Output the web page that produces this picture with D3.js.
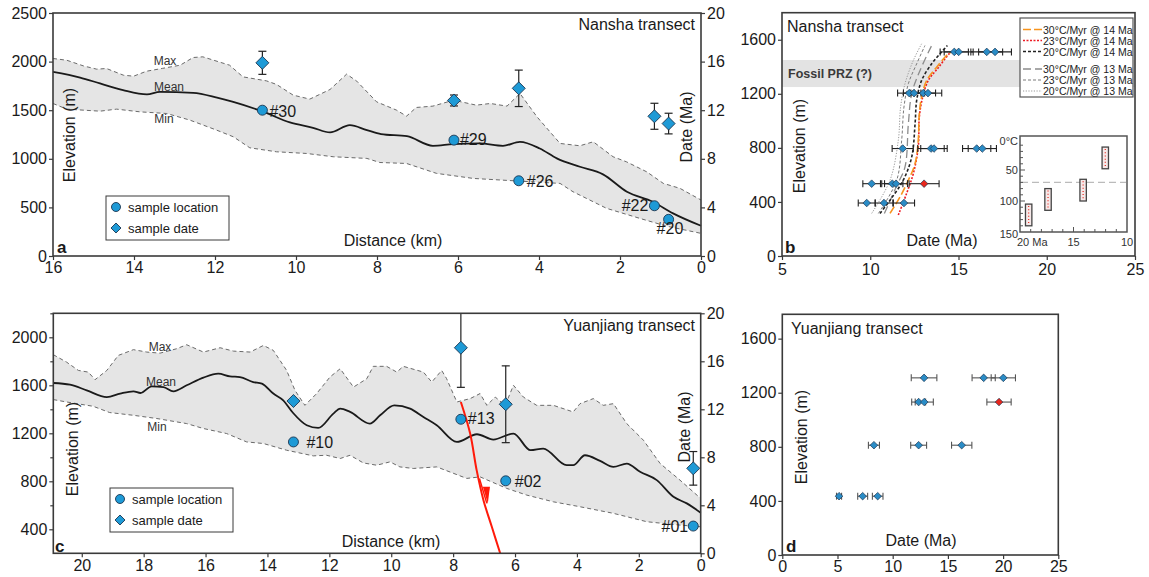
<!DOCTYPE html>
<html>
<head>
<meta charset="utf-8">
<script src="https://cdn.jsdelivr.net/npm/d3@7"></script>
<style>
  body { margin: 0; background: #fff; }
  svg text { font-family: "Liberation Sans", Arial, sans-serif; }
</style>
</head>
<body>
<div id="app"></div>
<script>
// ---------- data ----------

// a: Nansha swath profile (distance km / elevation m)
const nsMaxDist = [16, 15.66, 15.25, 14.92, 14.68, 14.26, 14.01, 13.69, 13.3, 12.86, 12.54, 12.3, 11.64, 11.31, 10.73, 10.48, 10.07, 9.66, 9.16, 8.75, 8.5, 8.01, 7.52, 7.27, 7.03, 6.62, 6.11, 5.55, 5.2, 4.79, 4.47, 4.05, 3.48, 2.99, 2.66, 2.17, 1.84, 1.34, 0.93, 0.52, 0];
const nsMaxElev = [2032, 2014, 1956, 1922, 1929, 1860, 1850, 1901, 1930, 1963, 2042, 2049, 1963, 1843, 1802, 1765, 1655, 1614, 1713, 1871, 1799, 1586, 1501, 1439, 1528, 1542, 1603, 1552, 1569, 1542, 1672, 1432, 1158, 1134, 1175, 1021, 969, 866, 747, 696, 576];
const nsMeanDist = [16, 15.33, 14.84, 14.27, 13.68, 13.36, 12.54, 11.95, 11.55, 10.8, 10.15, 9.58, 9.16, 8.67, 8.25, 7.9, 7.26, 6.62, 6.12, 5.46, 4.89, 4.47, 3.98, 3.56, 2.99, 2.42, 1.83, 1.19, 0.69, 0];
const nsMeanElev = [1894, 1836, 1775, 1706, 1662, 1689, 1679, 1630, 1586, 1483, 1374, 1319, 1271, 1346, 1295, 1255, 1233, 1134, 1151, 1158, 1134, 1175, 1106, 1004, 918, 840, 661, 558, 439, 311];
const nsMinDist = [16, 15.66, 14.84, 14.43, 13.85, 13.19, 12.62, 11.96, 11.55, 11.14, 10.48, 9.74, 9.08, 8.25, 7.93, 7.27, 6.53, 5.62, 4.22, 3.48, 3.16, 2.33, 1.51, 0.86, 0];
const nsMinElev = [1569, 1511, 1490, 1511, 1483, 1466, 1398, 1295, 1227, 1113, 1072, 1055, 1021, 1004, 962, 952, 850, 798, 764, 747, 661, 490, 387, 308, 233];

const nsSample = ['#30', '#29', '#26', '#22', '#20'];
const nsSampleDist = [10.83, 6.1, 4.5, 1.15, 0.8];
const nsSampleElev = [1500, 1192, 774, 517, 377];
const nsDateDist = [10.83, 6.1, 4.5, 1.15, 0.8];
const nsDate = [15.9, 12.8, 13.8, 11.5, 10.9];
const nsDateErr = [0.95, 0.45, 1.5, 1.07, 0.85];

// b: Nansha age-elevation
const nbDate = [14.76, 15.01, 16.6, 17.07, 12.21, 12.48, 13.0, 13.27, 11.84, 13.44, 13.61, 16.03, 16.35, 10.08, 11.25, 11.46, 9.8, 10.78, 11.91];
const nbElev = [1510, 1510, 1510, 1510, 1205, 1205, 1205, 1205, 795, 795, 795, 795, 795, 535, 535, 535, 392, 392, 392];
const nbErr = [0.8, 0.82, 0.9, 0.93, 0.66, 0.6, 0.7, 0.78, 0.6, 0.75, 0.75, 0.8, 0.8, 0.5, 0.6, 0.65, 0.48, 0.5, 0.6];
const nbRedDate = [13.05];
const nbRedElev = [535];
const nbRedErr = [0.85];
const przElev = [1250, 1450];

const modelNames = ['30°C/Myr @ 14 Ma', '23°C/Myr @ 14 Ma', '20°C/Myr @ 14 Ma', '30°C/Myr @ 13 Ma', '23°C/Myr @ 13 Ma', '20°C/Myr @ 13 Ma'];
const m30at14Date = [11.12, 11.69, 12.16, 12.54, 12.72, 12.78, 12.91, 13.2, 13.76, 14.42, 14.6];
const m30at14Elev = [315, 438, 561, 684, 856, 1053, 1176, 1299, 1397, 1496, 1510];
const m23at14Date = [11.59, 12.06, 12.44, 12.72, 12.78, 12.97, 13.29, 13.85, 14.5, 14.65];
const m23at14Elev = [303, 463, 610, 806, 1028, 1176, 1299, 1392, 1500, 1512];
const m20at14Date = [10.55, 11.12, 11.87, 12.35, 12.54, 12.63, 12.91, 13.48, 13.95, 14.37];
const m20at14Elev = [315, 413, 561, 733, 979, 1151, 1299, 1422, 1496, 1557];
const m30at13Date = [10.8, 11.5, 11.97, 12.16, 12.35, 12.82, 13.48];
const m30at13Elev = [315, 520, 659, 979, 1201, 1373, 1557];
const m23at13Date = [10.46, 11.5, 11.78, 11.91, 12.16, 12.63, 13.1];
const m23at13Elev = [315, 561, 856, 1102, 1275, 1422, 1557];
const m20at13Date = [10.08, 11.12, 11.59, 11.72, 11.97, 12.44, 12.91];
const m20at13Elev = [315, 561, 856, 1102, 1275, 1447, 1570];

// b inset: thermal history boxes
const insetDate = [19.19, 17.38, 14.1, 12.03];
const insetTempTop = [105, 80, 65, 13];
const insetTempBottom = [140, 115, 100, 48];
const insetPrzTemp = 70;

// c: Yuanjiang swath profile
const yjMaxDist = [20.92, 20.49, 20.11, 19.79, 19.57, 19.19, 18.82, 18.33, 17.9, 17.47, 16.93, 16.61, 16.07, 15.53, 15.1, 14.56, 14.13, 13.81, 13.38, 13.11, 12.79, 12.41, 11.98, 11.65, 11.22, 10.79, 10.58, 10.15, 9.82, 9.61, 8.96, 8.69, 8.37, 8.21, 7.88, 7.45, 7.13, 6.91, 6.64, 6.32, 6.05, 5.73, 5.3, 4.76, 4.12, 3.9, 3.47, 3.15, 2.82, 2.39, 1.85, 1.31, 0.67, 0];
const yjMaxElev = [1855, 1793, 1724, 1710, 1647, 1724, 1849, 1897, 1877, 1868, 1905, 1938, 1877, 1913, 1885, 1877, 1932, 1891, 1724, 1558, 1433, 1531, 1669, 1738, 1585, 1655, 1758, 1758, 1710, 1758, 1710, 1627, 1724, 1655, 1461, 1489, 1531, 1433, 1502, 1433, 1600, 1502, 1433, 1433, 1378, 1447, 1489, 1433, 1447, 1281, 1142, 948, 810, 657];
const yjMeanDist = [20.92, 20.38, 19.84, 19.19, 18.76, 18.33, 18.1, 17.74, 17.36, 17.04, 16.61, 16.07, 15.59, 15.21, 14.89, 14.46, 14.18, 13.81, 13.49, 13.17, 12.73, 12.36, 11.87, 11.65, 11.33, 10.69, 10.36, 9.9, 9.39, 8.96, 8.53, 7.88, 7.23, 6.7, 6.05, 5.5, 5.09, 4.33, 4.12, 3.74, 3.25, 2.82, 2.39, 1.96, 1.42, 0.88, 0.45, 0];
const yjMeanElev = [1619, 1605, 1558, 1502, 1531, 1550, 1536, 1591, 1585, 1550, 1600, 1664, 1697, 1674, 1669, 1627, 1614, 1531, 1475, 1369, 1267, 1245, 1364, 1406, 1378, 1281, 1350, 1433, 1406, 1336, 1267, 1128, 1192, 1148, 1198, 1059, 1073, 934, 934, 1017, 970, 920, 948, 879, 810, 671, 616, 538];
const yjMinDist = [20.92, 20.49, 19.63, 19.1, 18.33, 17.57, 16.61, 16.07, 15.32, 14.67, 14.13, 13.38, 12.52, 12.09, 11.65, 11.33, 10.9, 10.47, 10.04, 9.72, 9.29, 8.53, 7.56, 7.13, 6.27, 5.62, 4.76, 3.9, 2.82, 1.74, 0.67, 0];
const yjMinElev = [1481, 1461, 1425, 1373, 1350, 1323, 1281, 1240, 1198, 1128, 1115, 1059, 1012, 1017, 990, 1017, 953, 934, 962, 920, 907, 920, 824, 837, 741, 685, 629, 588, 533, 463, 435, 421];

const yjSample = ['#10', '#13', '#02', '#01'];
const yjSampleDist = [13.16, 7.75, 6.3, 0.24];
const yjSampleElev = [1128, 1317, 804, 427];
const yjDateDist = [13.16, 7.75, 6.3, 0.24];
const yjDate = [12.69, 17.13, 12.42, 7.08];
const yjDateErr = [0, 3.3, 3.2, 1.4];

const faultDist = [7.75, 7.45, 7.24, 7.02, 6.75, 6.48];
const faultElev = [1461, 1198, 893, 643, 421, 200];
const faultArrowDist = [7.04, 6.81, 6.88];
const faultArrowElev = [754, 754, 616];
const faultTickDist = [7.15, 6.91];
const faultTickElev = [824, 616];

// d: Yuanjiang age-elevation
const ndDate = [12.84, 18.24, 20.02, 12.35, 12.86, 8.3, 12.35, 16.25, 5.14, 7.28, 8.64];
const ndElev = [1310, 1310, 1310, 1131, 1131, 812, 812, 812, 435, 435, 435];
const ndErr = [1.16, 1.05, 1.1, 0.63, 0.82, 0.5, 0.72, 0.92, 0.23, 0.45, 0.48];
const ndRedDate = [19.63];
const ndRedElev = [1131];
const ndRedErr = [1.1];

// ---------- drawing ----------
const FONT = '"Liberation Sans", Arial, sans-serif';
const INK = '#3a3a3a';
const BLUE = '#1e9ad6';
const BLUE2 = '#2a8cc6';
const RED = '#e8261c';

const svg = d3.select('#app').append('svg')
  .attr('width', 1149).attr('height', 577)
  .style('background', '#fff');

function txt(g, x, y, s, o = {}) {
  const t = g.append('text').attr('x', x).attr('y', y).text(s)
    .attr('font-size', o.size || 16)
    .attr('fill', o.fill || '#1a1a1a')
    .attr('text-anchor', o.anchor || 'start')
    .attr('font-family', FONT);
  if (o.bold) t.attr('font-weight', 'bold');
  if (o.rotate) t.attr('transform', `rotate(-90,${x},${y})`);
  if (o.mid) t.attr('dominant-baseline', 'central');
  return t;
}

function styleAxis(sel, size = 16) {
  sel.select('.domain').remove();
  sel.selectAll('line').attr('stroke', INK).attr('stroke-width', 1.2);
  sel.selectAll('text').attr('font-size', size).attr('fill', '#1a1a1a').attr('font-family', FONT);
}

function frame(g, x, y) {
  const [x0, x1] = x.range();
  const [y1, y0] = y.range();
  g.append('rect')
    .attr('x', Math.min(x0, x1)).attr('y', y0)
    .attr('width', Math.abs(x1 - x0)).attr('height', y1 - y0)
    .attr('fill', 'none').attr('stroke', INK).attr('stroke-width', 1.6);
}

const diamond = (r) => `M0,${-r}L${r},0L0,${r}L${-r},0Z`;
const intFmt = d3.format('d');

function profilePanel(c) {
  const g = svg.append('g');
  const { x, y, t } = c;
  const pt = d3.line().x((d) => x(d[0])).y((d) => y(d[1]));

  const maxPts = d3.zip(c.maxD, c.maxE);
  const minPts = d3.zip(c.minD, c.minE);
  g.append('path')
    .attr('d', pt(maxPts.concat(minPts.slice().reverse())) + 'Z')
    .attr('fill', '#e5e5e5');

  [maxPts, minPts].forEach((p) => {
    g.append('path').attr('d', pt(p))
      .attr('fill', 'none').attr('stroke', '#6a6a6a')
      .attr('stroke-width', 1).attr('stroke-dasharray', '4,3');
  });

  g.append('path')
    .attr('d', pt.curve(d3.curveMonotoneX)(d3.zip(c.meanD, c.meanE)))
    .attr('fill', 'none').attr('stroke', '#1a1a1a').attr('stroke-width', 1.8);
  pt.curve(d3.curveLinear);

  if (c.extra) c.extra(g);

  // axes
  const ax = g.append('g').attr('transform', `translate(0,${y.range()[0]})`)
    .call(d3.axisBottom(x).tickValues(c.xTicks).tickSize(4).tickPadding(2).tickFormat(intFmt));
  styleAxis(ax);
  const ay = g.append('g').attr('transform', `translate(${x.range()[0]},0)`)
    .call(d3.axisLeft(y).tickValues(c.yTicks).tickSize(4).tickPadding(2).tickFormat(intFmt));
  styleAxis(ay);
  if (c.yMinor) {
    const am = g.append('g').attr('transform', `translate(${x.range()[0]},0)`)
      .call(d3.axisLeft(y).tickValues(c.yMinor).tickSize(3).tickFormat(''));
    styleAxis(am);
  }
  const at = g.append('g').attr('transform', `translate(${x.range()[1]},0)`)
    .call(d3.axisRight(t).tickValues(c.tTicks).tickSize(4).tickPadding(2).tickFormat(intFmt));
  styleAxis(at);

  // date diamonds with error bars
  const top = t.domain()[1];
  c.dateD.forEach((d, i) => {
    const px = x(d);
    const e = c.dateErr[i];
    if (e > 0) {
      const hi = Math.min(top, c.date[i] + e);
      const lo = c.date[i] - e;
      g.append('line').attr('x1', px).attr('x2', px)
        .attr('y1', t(lo)).attr('y2', t(hi))
        .attr('stroke', '#222').attr('stroke-width', 1.2);
      const caps = [lo];
      if (c.date[i] + e < top) caps.push(hi);
      caps.forEach((v) => g.append('line')
        .attr('x1', px - 4).attr('x2', px + 4).attr('y1', t(v)).attr('y2', t(v))
        .attr('stroke', '#222').attr('stroke-width', 1.2));
    }
    g.append('path').attr('d', diamond(6.5))
      .attr('transform', `translate(${px},${t(c.date[i])})`)
      .attr('fill', BLUE).attr('stroke', '#1c3550').attr('stroke-width', 0.9);
  });

  // sample locations
  c.sampleD.forEach((d, i) => {
    const px = x(d), py = y(c.sampleE[i]);
    g.append('circle').attr('cx', px).attr('cy', py).attr('r', 5)
      .attr('fill', BLUE).attr('stroke', '#1c3550').attr('stroke-width', 0.9);
    const o = c.labelOff[i];
    txt(g, px + o[0], py + o[1], c.sample[i], { anchor: o[2], mid: true });
  });

  frame(g, x, y);

  // texts
  const L = c.text;
  txt(g, L.title[0], L.title[1], c.title, { anchor: 'end' });
  txt(g, L.elev[0], L.elev[1], 'Elevation (m)', { anchor: 'middle', rotate: true, mid: true });
  txt(g, L.date[0], L.date[1], 'Date (Ma)', { anchor: 'middle', rotate: true, mid: true });
  txt(g, L.dist[0], L.dist[1], 'Distance (km)', { anchor: 'middle', mid: true });
  txt(g, L.letter[0], L.letter[1], c.letter, { bold: true, size: 17 });
  txt(g, L.max[0], L.max[1], 'Max', { size: 12, anchor: 'middle', mid: true, fill: '#333' });
  txt(g, L.mean[0], L.mean[1], 'Mean', { size: 12, anchor: 'middle', mid: true, fill: '#333' });
  txt(g, L.min[0], L.min[1], 'Min', { size: 12, anchor: 'middle', mid: true, fill: '#333' });

  // legend
  const [lx, ly] = L.legend;
  g.append('rect').attr('x', lx).attr('y', ly).attr('width', 123).attr('height', 44)
    .attr('fill', '#fff').attr('stroke', INK).attr('stroke-width', 1);
  g.append('circle').attr('cx', lx + 10).attr('cy', ly + 11).attr('r', 4.5)
    .attr('fill', BLUE).attr('stroke', '#1c3550').attr('stroke-width', 0.9);
  g.append('path').attr('d', diamond(5)).attr('transform', `translate(${lx + 10},${ly + 32})`)
    .attr('fill', BLUE).attr('stroke', '#1c3550').attr('stroke-width', 0.9);
  txt(g, lx + 22, ly + 11, 'sample location', { size: 13, mid: true });
  txt(g, lx + 22, ly + 32, 'sample date', { size: 13, mid: true });
}

// ----- panel a -----
const xa = d3.scaleLinear().domain([16, 0]).range([53, 701]);
const ya = d3.scaleLinear().domain([0, 2500]).range([256, 13]);
const ta = d3.scaleLinear().domain([0, 20]).range([256, 13]);
profilePanel({
  x: xa, y: ya, t: ta,
  maxD: nsMaxDist, maxE: nsMaxElev, meanD: nsMeanDist, meanE: nsMeanElev, minD: nsMinDist, minE: nsMinElev,
  sample: nsSample, sampleD: nsSampleDist, sampleE: nsSampleElev,
  dateD: nsDateDist, date: nsDate, dateErr: nsDateErr,
  labelOff: [[7, 1, 'start'], [6, -1, 'start'], [8, 1, 'start'], [-6, 0, 'end'], [-12, 9, 'start']],
  xTicks: d3.range(0, 17, 2), yTicks: d3.range(0, 2501, 500), tTicks: [0, 4, 8, 12, 16, 20],
  title: 'Nansha transect', letter: 'a',
  text: {
    title: [695, 30], elev: [69, 135], date: [686, 127], dist: [393, 240], letter: [57, 253],
    max: [165, 61], mean: [169, 87], min: [164, 119], legend: [106, 196],
  },
});

// ----- panel c -----
const xc = d3.scaleLinear().domain([20.92, 0]).range([53.3, 700.7]);
const yc = d3.scaleLinear().domain([200, 2200]).range([553.3, 313.3]);
const tc = d3.scaleLinear().domain([0, 20]).range([553.3, 313.3]);
profilePanel({
  x: xc, y: yc, t: tc,
  maxD: yjMaxDist, maxE: yjMaxElev, meanD: yjMeanDist, meanE: yjMeanElev, minD: yjMinDist, minE: yjMinElev,
  sample: yjSample, sampleD: yjSampleDist, sampleE: yjSampleElev,
  dateD: yjDateDist, date: yjDate, dateErr: yjDateErr,
  labelOff: [[13, 1, 'start'], [7, -1, 'start'], [9, 1, 'start'], [-5, 0, 'end']],
  xTicks: d3.range(0, 21, 2), yTicks: d3.range(400, 2001, 400), yMinor: d3.range(600, 2201, 400),
  tTicks: [0, 4, 8, 12, 16, 20],
  title: 'Yuanjiang transect', letter: 'c',
  text: {
    title: [695, 331], elev: [72, 449], date: [684, 427], dist: [391, 541], letter: [55, 552],
    max: [160, 347], mean: [161, 382], min: [157, 427], legend: [110, 488],
  },
  extra: (g) => {
    const fl = d3.line().x((d) => xc(d[0])).y((d) => yc(d[1])).curve(d3.curveCatmullRom);
    g.append('path').attr('d', fl(d3.zip(faultDist, faultElev)))
      .attr('fill', 'none').attr('stroke', '#ff1a0a').attr('stroke-width', 2);
    g.append('path').attr('d', fl(d3.zip(faultTickDist, faultTickElev)))
      .attr('fill', 'none').attr('stroke', '#ff1a0a').attr('stroke-width', 1.5);
    g.append('path').attr('d', d3.line().x((d) => xc(d[0])).y((d) => yc(d[1]))(d3.zip(faultArrowDist, faultArrowElev)) + 'Z')
      .attr('fill', '#ff1a0a');
  },
});

// ----- panel b -----
const xb = d3.scaleLinear().domain([5, 25]).range([782, 1135]);
const yb = d3.scaleLinear().domain([0, 1800]).range([256, 12.7]);
{
  const g = svg.append('g');
  g.append('rect').attr('x', xb(5)).attr('width', xb(25) - xb(5))
    .attr('y', yb(przElev[1])).attr('height', yb(przElev[0]) - yb(przElev[1]))
    .attr('fill', '#e3e3e3');
  txt(g, 788, yb(1350), 'Fossil PRZ (?)', { bold: true, size: 12.5, fill: '#3a3a3a', mid: true });

  const models = [
    [m30at14Date, m30at14Elev, '#f7941d', '8,3', 1.6],
    [m23at14Date, m23at14Elev, '#ed1c24', '2,1.5', 1.6],
    [m20at14Date, m20at14Elev, '#222', '3,2', 1.6],
    [m30at13Date, m30at13Elev, '#8c8c8c', '8,4', 1.3],
    [m23at13Date, m23at13Elev, '#7a7a7a', '3,2', 1.0],
    [m20at13Date, m20at13Elev, '#999', '1.2,1.5', 1.0],
  ];
  const ml = d3.line().x((d) => xb(d[0])).y((d) => yb(d[1])).curve(d3.curveCatmullRom.alpha(0.5));
  models.slice().reverse().forEach((m) => {
    g.append('path').attr('d', ml(d3.zip(m[0], m[1])))
      .attr('fill', 'none').attr('stroke', m[2]).attr('stroke-dasharray', m[3]).attr('stroke-width', m[4]);
  });

  const pts = (dates, elevs, errs, fill, bar) => {
    dates.forEach((d, i) => {
      const py = yb(elevs[i]);
      g.append('line').attr('x1', xb(d - errs[i])).attr('x2', xb(d + errs[i]))
        .attr('y1', py).attr('y2', py).attr('stroke', bar).attr('stroke-width', 1.1);
      [d - errs[i], d + errs[i]].forEach((v) => g.append('line')
        .attr('x1', xb(v)).attr('x2', xb(v)).attr('y1', py - 3.5).attr('y2', py + 3.5)
        .attr('stroke', bar).attr('stroke-width', 1.1));
    });
    dates.forEach((d, i) => {
      g.append('path').attr('d', diamond(3.8))
        .attr('transform', `translate(${xb(d)},${yb(elevs[i])})`)
        .attr('fill', fill).attr('stroke', '#1c3550').attr('stroke-width', 0.7);
    });
  };
  pts(nbDate, nbElev, nbErr, BLUE2, '#222');
  pts(nbRedDate, nbRedElev, nbRedErr, RED, '#222');

  const ax = g.append('g').attr('transform', 'translate(0,256)')
    .call(d3.axisBottom(xb).tickValues([5, 10, 15, 20, 25]).tickSize(4).tickPadding(4).tickFormat(intFmt));
  styleAxis(ax);
  const ay = g.append('g').attr('transform', `translate(${xb(5)},0)`)
    .call(d3.axisLeft(yb).tickValues(d3.range(0, 1601, 400)).tickSize(4).tickPadding(2).tickFormat(intFmt));
  styleAxis(ay);
  frame(g, xb, yb);

  txt(g, 787, 32, 'Nansha transect');
  txt(g, 799, 146, 'Elevation (m)', { anchor: 'middle', rotate: true, mid: true });
  txt(g, 942, 240, 'Date (Ma)', { anchor: 'middle', mid: true });
  txt(g, 785, 253, 'b', { bold: true, size: 17 });

  // legend
  g.append('rect').attr('x', 1020).attr('y', 18).attr('width', 113).attr('height', 79)
    .attr('fill', '#fff').attr('stroke', '#555').attr('stroke-width', 1.2);
  const ly = [29.5, 40.5, 51.5, 69, 80, 91];
  models.forEach((m, i) => {
    g.append('line').attr('x1', 1023).attr('x2', 1042).attr('y1', ly[i]).attr('y2', ly[i])
      .attr('stroke', m[2]).attr('stroke-dasharray', m[3]).attr('stroke-width', m[4]);
    txt(g, 1043, ly[i], modelNames[i], { size: 10.5, mid: true, fill: '#222' });
  });

  // inset
  const xi = d3.scaleLinear().domain([20, 10]).range([1020, 1127]);
  const yi = d3.scaleLinear().domain([0, 150]).range([139, 232]);
  g.append('rect').attr('x', 1020).attr('y', 136).attr('width', 107).attr('height', 96)
    .attr('fill', '#fff').attr('stroke', '#555').attr('stroke-width', 1.5);
  g.append('line').attr('x1', 1021).attr('x2', 1126).attr('y1', yi(insetPrzTemp)).attr('y2', yi(insetPrzTemp))
    .attr('stroke', '#bbb').attr('stroke-width', 1.3).attr('stroke-dasharray', '7,4');
  insetDate.forEach((d, i) => {
    const y0 = yi(insetTempTop[i]), y1 = yi(insetTempBottom[i]);
    g.append('rect').attr('x', xi(d) - 3.2).attr('width', 6.4).attr('y', y0).attr('height', y1 - y0)
      .attr('fill', '#f6e9e9').attr('stroke', '#444').attr('stroke-width', 1.3);
    g.append('line').attr('x1', xi(d)).attr('x2', xi(d)).attr('y1', y0 + 2).attr('y2', y1 - 2)
      .attr('stroke', RED).attr('stroke-width', 1.2).attr('stroke-dasharray', '1,2.2');
  });
  d3.range(11, 20).forEach((v) => {
    g.append('line').attr('x1', xi(v)).attr('x2', xi(v)).attr('y1', 232).attr('y2', v === 15 ? 227 : 229)
      .attr('stroke', '#555').attr('stroke-width', 1);
  });
  d3.range(10, 150, 10).forEach((v) => {
    g.append('line').attr('x1', 1020).attr('x2', v % 50 === 0 ? 1025 : 1023).attr('y1', yi(v)).attr('y2', yi(v))
      .attr('stroke', '#555').attr('stroke-width', 1);
  });
  txt(g, 1018, 141, '0°C', { size: 11, anchor: 'end', mid: true, fill: '#333' });
  txt(g, 1018, yi(50), '50', { size: 11, anchor: 'end', mid: true, fill: '#333' });
  txt(g, 1018, yi(100), '100', { size: 11, anchor: 'end', mid: true, fill: '#333' });
  txt(g, 1018, 234, '150', { size: 11, anchor: 'end', mid: true, fill: '#333' });
  txt(g, 1017, 242, '20 Ma', { size: 11, mid: true, fill: '#333' });
  txt(g, xi(15), 242, '15', { size: 11, anchor: 'middle', mid: true, fill: '#333' });
  txt(g, xi(10), 242, '10', { size: 11, anchor: 'middle', mid: true, fill: '#333' });
}

// ----- panel d -----
const xd = d3.scaleLinear().domain([0, 25]).range([782.3, 1058.3]);
const yd = d3.scaleLinear().domain([0, 1780]).range([555, 314.3]);
{
  const g = svg.append('g');
  const pts = (dates, elevs, errs, fill) => {
    dates.forEach((d, i) => {
      const py = yd(elevs[i]);
      g.append('line').attr('x1', xd(d - errs[i])).attr('x2', xd(d + errs[i]))
        .attr('y1', py).attr('y2', py).attr('stroke', '#555').attr('stroke-width', 1.1);
      [d - errs[i], d + errs[i]].forEach((v) => g.append('line')
        .attr('x1', xd(v)).attr('x2', xd(v)).attr('y1', py - 3.5).attr('y2', py + 3.5)
        .attr('stroke', '#555').attr('stroke-width', 1.1));
    });
    dates.forEach((d, i) => {
      g.append('path').attr('d', diamond(3.8))
        .attr('transform', `translate(${xd(d)},${yd(elevs[i])})`)
        .attr('fill', fill).attr('stroke', '#1c3550').attr('stroke-width', 0.7);
    });
  };
  pts(ndDate, ndElev, ndErr, BLUE2);
  pts(ndRedDate, ndRedElev, ndRedErr, RED);

  const ax = g.append('g').attr('transform', 'translate(0,555)')
    .call(d3.axisBottom(xd).tickValues([0, 5, 10, 15, 20, 25]).tickSize(4).tickPadding(2).tickFormat(intFmt));
  styleAxis(ax);
  const ay = g.append('g').attr('transform', `translate(${xd(0)},0)`)
    .call(d3.axisLeft(yd).tickValues(d3.range(0, 1601, 400)).tickSize(4).tickPadding(2).tickFormat(intFmt));
  styleAxis(ay);
  frame(g, xd, yd);

  txt(g, 791, 334, 'Yuanjiang transect');
  txt(g, 801, 437, 'Elevation (m)', { anchor: 'middle', rotate: true, mid: true });
  txt(g, 921, 540, 'Date (Ma)', { anchor: 'middle', mid: true });
  txt(g, 786, 552, 'd', { bold: true, size: 17 });
}
</script>
</body>
</html>
